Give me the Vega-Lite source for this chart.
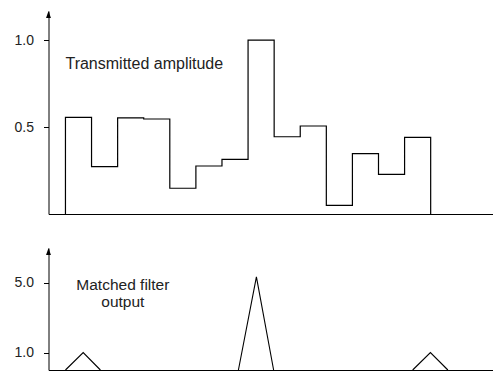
{
  "$schema": "https://vega.github.io/schema/vega-lite/v6.json",
  "autosize": {"type": "pad"},
  "padding": {"left": 13.5, "top": 11, "right": 1, "bottom": 4},
  "background": "white",
  "spacing": 31,
  "config": {
    "view": {"stroke": null},
    "axis": {
      "grid": false,
      "domainColor": "#000",
      "domainWidth": 1,
      "tickColor": "#000",
      "tickWidth": 1,
      "tickSize": 5,
      "labelFont": "Liberation Sans",
      "labelFontSize": 14,
      "labelColor": "#222",
      "labelPadding": 10,
      "title": null
    },
    "text": {"font": "Liberation Sans", "fontSize": 16, "color": "#222"}
  },
  "datasets": {
    "amp": [
      {"i": 0, "x": 0, "y": 0},
      {"i": 1, "x": 0, "y": 0.556},
      {"i": 2, "x": 1, "y": 0.272},
      {"i": 3, "x": 2, "y": 0.553},
      {"i": 4, "x": 3, "y": 0.546},
      {"i": 5, "x": 4, "y": 0.148},
      {"i": 6, "x": 5, "y": 0.276},
      {"i": 7, "x": 6, "y": 0.314},
      {"i": 8, "x": 7, "y": 1.0},
      {"i": 9, "x": 8, "y": 0.444},
      {"i": 10, "x": 9, "y": 0.506},
      {"i": 11, "x": 10, "y": 0.05},
      {"i": 12, "x": 11, "y": 0.347},
      {"i": 13, "x": 12, "y": 0.228},
      {"i": 14, "x": 13, "y": 0.441},
      {"i": 15, "x": 14, "y": 0}
    ],
    "mf": [
      {"g": "a", "x": 0, "y": 0},
      {"g": "a", "x": 0.68, "y": 1},
      {"g": "a", "x": 1.34, "y": 0},
      {"g": "b", "x": 6.63, "y": 0},
      {"g": "b", "x": 7.32, "y": 5.34},
      {"g": "b", "x": 7.98, "y": 0},
      {"g": "c", "x": 13.31, "y": 0},
      {"g": "c", "x": 13.99, "y": 1},
      {"g": "c", "x": 14.66, "y": 0}
    ]
  },
  "vconcat": [
    {
      "width": 444,
      "height": 203,
      "layer": [
        {
          "data": {"name": "amp"},
          "mark": {"type": "line", "interpolate": "step-after", "color": "#000", "strokeWidth": 1.2},
          "encoding": {
            "x": {"field": "x", "type": "quantitative", "scale": {"domain": [-0.65, 16.37], "nice": false, "zero": false},
                  "axis": {"ticks": false, "labels": false}},
            "y": {"field": "y", "type": "quantitative", "scale": {"domain": [0, 1.167], "nice": false},
                  "axis": {"values": [0.5, 1.0], "format": ".1f"}},
            "order": {"field": "i"}
          }
        },
        {
          "data": {"values": [{"x": -0.65, "y": 1.167}]},
          "mark": {"type": "point", "shape": "M0,-1L0.7,1L-0.7,1Z", "filled": true, "color": "#000", "opacity": 1, "size": 49, "yOffset": 3.5},
          "encoding": {
            "x": {"field": "x", "type": "quantitative"},
            "y": {"field": "y", "type": "quantitative"}
          }
        },
        {
          "data": {"values": [{"x": 0, "y": 0.833, "t": "Transmitted amplitude"}]},
          "mark": {"type": "text", "align": "left", "baseline": "alphabetic"},
          "encoding": {
            "x": {"field": "x", "type": "quantitative"},
            "y": {"field": "y", "type": "quantitative"},
            "text": {"field": "t"}
          }
        }
      ]
    },
    {
      "width": 444,
      "height": 122,
      "layer": [
        {
          "data": {"name": "mf"},
          "mark": {"type": "line", "color": "#000", "strokeWidth": 1.1},
          "encoding": {
            "x": {"field": "x", "type": "quantitative", "scale": {"domain": [-0.65, 16.37], "nice": false, "zero": false},
                  "axis": {"ticks": false, "labels": false}},
            "y": {"field": "y", "type": "quantitative", "scale": {"domain": [0, 7], "nice": false},
                  "axis": {"values": [1, 5], "format": ".1f"}},
            "detail": {"field": "g"}
          }
        },
        {
          "data": {"values": [{"x": -0.65, "y": 7}]},
          "mark": {"type": "point", "shape": "M0,-1L0.7,1L-0.7,1Z", "filled": true, "color": "#000", "opacity": 1, "size": 49, "yOffset": 3.5},
          "encoding": {
            "x": {"field": "x", "type": "quantitative"},
            "y": {"field": "y", "type": "quantitative"}
          }
        },
        {
          "data": {"values": [{"x": 2.2, "y": 4.6, "t": "Matched filter"}, {"x": 2.2, "y": 3.59, "t": "output"}]},
          "mark": {"type": "text", "align": "center", "baseline": "alphabetic", "fontSize": 15.5},
          "encoding": {
            "x": {"field": "x", "type": "quantitative"},
            "y": {"field": "y", "type": "quantitative"},
            "text": {"field": "t"}
          }
        }
      ]
    }
  ]
}
